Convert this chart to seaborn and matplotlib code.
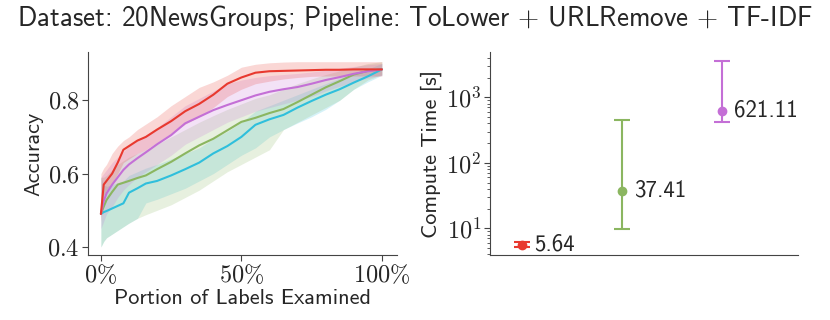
import matplotlib
matplotlib.use("Agg")
import matplotlib.pyplot as plt
import matplotlib.ticker as mticker
import numpy as np
import pandas as pd
import seaborn as sns

# --- data ---
pct = [0, 1, 2, 4, 6, 8, 10, 13, 16, 20, 25, 30, 35, 40, 45, 50, 55, 60, 65, 70, 75, 80, 85, 90, 95, 100]

red_mean = [0.49, 0.57, 0.58, 0.60, 0.63, 0.665, 0.675, 0.69, 0.70, 0.72, 0.743, 0.77, 0.79, 0.815, 0.845, 0.862, 0.875, 0.879, 0.880, 0.881, 0.882, 0.883, 0.883, 0.884, 0.884, 0.884]
red_hi = [0.60, 0.615, 0.625, 0.655, 0.675, 0.69, 0.70, 0.72, 0.735, 0.755, 0.785, 0.81, 0.835, 0.85, 0.868, 0.89, 0.898, 0.902, 0.904, 0.905, 0.905, 0.905, 0.905, 0.905, 0.905, 0.905]
red_lo = [0.47, 0.54, 0.555, 0.575, 0.60, 0.63, 0.64, 0.655, 0.665, 0.685, 0.71, 0.735, 0.755, 0.78, 0.81, 0.83, 0.845, 0.852, 0.858, 0.862, 0.865, 0.866, 0.866, 0.866, 0.866, 0.866]

purple_mean = [0.49, 0.525, 0.546, 0.57, 0.59, 0.61, 0.625, 0.642, 0.658, 0.68, 0.705, 0.737, 0.755, 0.773, 0.787, 0.80, 0.813, 0.823, 0.83, 0.836, 0.845, 0.855, 0.863, 0.872, 0.879, 0.884]
purple_hi = [0.59, 0.60, 0.61, 0.63, 0.645, 0.66, 0.675, 0.69, 0.705, 0.725, 0.755, 0.785, 0.805, 0.825, 0.845, 0.855, 0.862, 0.867, 0.87, 0.873, 0.877, 0.882, 0.887, 0.892, 0.897, 0.90]
purple_lo = [0.45, 0.47, 0.49, 0.51, 0.535, 0.555, 0.57, 0.59, 0.605, 0.625, 0.65, 0.68, 0.70, 0.72, 0.74, 0.755, 0.77, 0.78, 0.79, 0.80, 0.81, 0.825, 0.838, 0.85, 0.86, 0.868]

green_mean = [0.49, 0.51, 0.528, 0.55, 0.57, 0.575, 0.58, 0.588, 0.595, 0.612, 0.632, 0.655, 0.677, 0.695, 0.718, 0.741, 0.752, 0.765, 0.776, 0.795, 0.815, 0.835, 0.852, 0.87, 0.88, 0.884]
green_hi = [0.59, 0.59, 0.595, 0.61, 0.625, 0.635, 0.645, 0.655, 0.665, 0.68, 0.70, 0.72, 0.74, 0.758, 0.775, 0.79, 0.805, 0.815, 0.83, 0.845, 0.858, 0.87, 0.88, 0.89, 0.90, 0.905]
green_lo = [0.40, 0.415, 0.425, 0.435, 0.445, 0.455, 0.465, 0.478, 0.488, 0.50, 0.515, 0.535, 0.555, 0.58, 0.605, 0.625, 0.645, 0.665, 0.72, 0.74, 0.76, 0.78, 0.80, 0.83, 0.855, 0.87]

cyan_mean = [0.49, 0.495, 0.498, 0.505, 0.512, 0.519, 0.548, 0.56, 0.573, 0.58, 0.595, 0.612, 0.63, 0.655, 0.675, 0.70, 0.733, 0.748, 0.76, 0.78, 0.798, 0.815, 0.83, 0.848, 0.865, 0.884]
cyan_hi = [0.59, 0.57, 0.565, 0.57, 0.575, 0.58, 0.595, 0.605, 0.615, 0.625, 0.64, 0.655, 0.67, 0.695, 0.715, 0.74, 0.77, 0.785, 0.80, 0.815, 0.83, 0.845, 0.86, 0.873, 0.885, 0.90]
cyan_lo = [0.40, 0.415, 0.425, 0.435, 0.445, 0.455, 0.465, 0.478, 0.52, 0.53, 0.545, 0.56, 0.58, 0.60, 0.625, 0.65, 0.67, 0.70, 0.72, 0.738, 0.755, 0.775, 0.80, 0.83, 0.85, 0.868]

# compute time (only three of the four methods shown)
time_labels = ["5.64", "37.41", "621.11"]
time_mean = [5.64, 37.41, 621.11]
time_lo = [5.25, 9.7, 415.0]
time_hi = [6.1, 455.0, 3540.0]

colors = {"red": "#e8392f", "purple": "#c46fd6", "green": "#8bb660", "cyan": "#2fbfdc"}
time_colors = [colors["red"], colors["green"], colors["purple"]]

# --- style ---
sns.set_style("ticks")
plt.rcParams["font.family"] = ["cmss10", "DejaVu Sans"]
plt.rcParams["mathtext.fontset"] = "cm"
plt.rcParams["axes.unicode_minus"] = False
plt.rcParams["axes.edgecolor"] = "#444444"

fig = plt.figure(figsize=(8.3, 3.2), dpi=100)
ax1 = fig.add_axes([0.106, 0.203, 0.372, 0.634])
ax2 = fig.add_axes([0.590, 0.203, 0.371, 0.634])

# --- left: accuracy curves ---
x = np.array(pct) / 100.0
curves = [
    ("cyan", cyan_mean, cyan_lo, cyan_hi),
    ("green", green_mean, green_lo, green_hi),
    ("purple", purple_mean, purple_lo, purple_hi),
    ("red", red_mean, red_lo, red_hi),
]
rows = []
for name, m, lo, hi in curves:
    ax1.fill_between(x, lo, hi, color=colors[name], alpha=0.2, linewidth=0)
    for xi, v in zip(x, m):
        rows.append({"portion": xi, "acc": v, "method": name})
df = pd.DataFrame(rows)
sns.lineplot(data=df, x="portion", y="acc", hue="method", palette=colors,
             hue_order=[c[0] for c in curves], linewidth=1.5, legend=False, ax=ax1)

ax1.set_xlim(-0.046, 1.053)
ax1.set_ylim(0.378, 0.931)
ax1.set_xticks([0, 0.5, 1.0])
ax1.set_xticklabels([r"$0\%$", r"$50\%$", r"$100\%$"])
ax1.set_yticks([0.4, 0.6, 0.8])
ax1.set_yticklabels([r"$0.4$", r"$0.6$", r"$0.8$"])
ax1.set_xlabel("Portion of Labels Examined", fontsize=16, labelpad=1)
ax1.set_ylabel("Accuracy", fontsize=16, labelpad=3)
ax1.tick_params(labelsize=17.5, length=4, color="#444444", pad=2)

# --- right: compute time ---
xpos = np.arange(len(time_mean))
for i in range(len(time_mean)):
    ax2.errorbar(xpos[i], time_mean[i],
                 yerr=[[time_mean[i] - time_lo[i]], [time_hi[i] - time_mean[i]]],
                 fmt="o", color=time_colors[i], markersize=6, capsize=6,
                 elinewidth=1.5, capthick=1.5)
    ax2.annotate(time_labels[i], (xpos[i], time_mean[i]), xytext=(9, 0),
                 textcoords="offset points", va="center", ha="left", fontsize=16.5)

ax2.set_yscale("log")
ax2.set_xlim(-0.32, 2.76)
ax2.set_ylim(3.9, 4900)
ax2.set_xticks([])
ax2.yaxis.set_major_locator(mticker.FixedLocator([10, 100, 1000]))
ax2.yaxis.set_major_formatter(mticker.FuncFormatter(lambda v, p: r"$10^{%d}$" % round(np.log10(v))))
ax2.yaxis.set_minor_locator(mticker.LogLocator(base=10, subs=np.arange(2, 10)))
ax2.yaxis.set_minor_formatter(mticker.NullFormatter())
ax2.set_ylabel("Compute Time [s]", fontsize=16, labelpad=3)
ax2.tick_params(axis="y", which="major", labelsize=17.5, length=4, color="#444444", pad=2)
ax2.tick_params(axis="y", which="minor", length=2, color="#444444")

sns.despine(fig=fig)
fig.suptitle(r"Dataset: 20NewsGroups; Pipeline: ToLower $+$ URLRemove $+$ TF-IDF",
             fontsize=19.5, y=0.99)

fig.savefig("out.png", dpi=100)
